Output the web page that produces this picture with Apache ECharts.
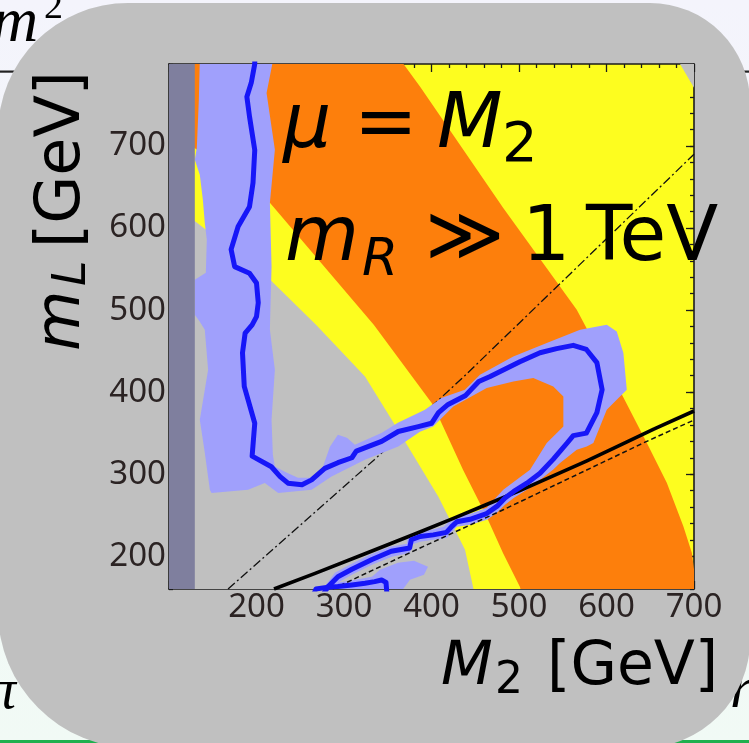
<!DOCTYPE html>
<html><head><meta charset="utf-8">
<script src="https://cdn.jsdelivr.net/npm/echarts@6/dist/echarts.min.js"></script>
<style>html,body{margin:0;padding:0;background:#f3f4f9}#c{width:749px;height:743px}</style>
</head><body><div id="c"></div>
<script>
// ---- axis values ----
const xTickLabels = [200, 300, 400, 500, 600, 700];
const yTickLabels = [200, 300, 400, 500, 600, 700];
const yMajorTicks = [200, 300, 400, 500, 600, 700];

// ---- regions (M2, mL) ----
const outerGrayCorner = [[684, 800], [710, 805], [710, 753]];
const orangeBand = [[95, 155], [95, 805], [364.6, 805], [368, 800], [386.8, 772.6], [482, 624.4], [566, 500.4], [618.9, 394.4], [646, 338.3], [668.9, 289.6], [687.9, 236.3], [697.5, 204.2], [700.5, 180], [703, 160], [705, 155]];
const innerYellow = [[95, 155], [95, 724], [132, 695.4], [215.3, 630.8], [334, 482], [400.2, 386.7], [409.7, 366.3], [436, 305.4], [463, 248], [481.7, 204], [501, 162.8], [503, 155]];
const innerGray = [[95, 155], [95, 635], [132, 606.4], [215.3, 537.2], [268, 482], [324, 419.1], [361.6, 354.2], [407.7, 272.9], [438.3, 207.9], [449, 155]];
const lepStrip = [[95, 155], [95, 805], [129.5, 805], [129.5, 155]];
const lightBlue = [
  [135.2, 805], [219, 805],
  [211.5, 764.5], [221, 695.4], [215.3, 630.5], [217.2, 553.2], [215.3, 476], [221, 427.3], [217.2, 366.3], [218.7, 323.7], [221, 309.4],
  [232.4, 303], [247.3, 295.7], [261, 295.7], [274.7, 305.4], [283.9, 333.4], [293, 348.1], [303.3, 344.4], [312.5, 335.9], [343.3, 350.5], [361.6, 362.7], [392.5, 378.5], [411.9, 393.2], [438.2, 403], [444, 409], [455.4, 421.2], [493.5, 443.5], [531.7, 459.8], [569.8, 476], [600.3, 482.1], [611.7, 474], [619.3, 447.6], [623.2, 403], [611.7, 390.7], [600.3, 378.5], [585, 338], [577.4, 333.8], [566, 329.8], [546.9, 313.6],
  [538.9, 305.4], [524, 293.2], [509.1, 281], [494.3, 271.3], [484, 262.7], [474.8, 253], [463.4, 244.4], [444, 238.4], [429.1, 236], [423.4, 229.8], [417.7, 222.5], [401.7, 220.1], [386.8, 217.6], [376.5, 214], [375.4, 204.2], [354.8, 199.4], [331.9, 189.7], [308.9, 177.5], [295.3, 169], [287.3, 158],
  [274.7, 158],
  [289.6, 179.9], [306.7, 189.7], [329.6, 201.8], [352.5, 211.6], [371.9, 215.2], [373.1, 225], [386.8, 229.8], [401.7, 232.4], [414.2, 236], [421.1, 243.2], [428, 249.3], [444, 251.8], [463.1, 259.1], [470.3, 267.6], [482, 281],
  [512.6, 305.4], [531.7, 338], [550.7, 358.2], [550.7, 394.7], [539.2, 406.9], [516.3, 417.2], [493.5, 413], [463.1, 405], [424.9, 382.6], [402, 358.2], [386.8, 351.7],
  [362, 333.8], [323.9, 317.6], [285.8, 297.2], [263, 281], [224.8, 277], [209.5, 289.2], [190.4, 281], [148.6, 277], [146.7, 281],
  [140.9, 326.1], [135.2, 366.3], [144.7, 427.3], [140.9, 476], [135.2, 485.8], [129.5, 494.3], [129.5, 537], [142.1, 545.5], [143.2, 585.7], [140.9, 606.4], [138.7, 634.5], [135.2, 665], [129.5, 683.2], [131.8, 697.9], [134.1, 756.4], [135.2, 805]
];
const lightBlueBlob = [[267.9, 158], [283.9, 166.5], [306.7, 170.1], [331.9, 175], [341.1, 183.5], [361.6, 192], [380, 194.5], [396, 187.2], [391.4, 177.5], [375.4, 171.3], [366.2, 158]];

// ---- curves ----
const blueContour = [[198, 805], [198, 800], [194, 777], [189, 760], [192, 736], [198, 695], [196, 655], [192, 626], [179, 602], [171, 574], [175, 553], [192, 545], [200, 533], [202, 509], [200, 492], [195, 482], [187, 472], [184, 448], [186, 407], [198, 362], [195, 322], [217, 309], [227, 297], [236, 289], [252, 287], [263, 293], [278, 307], [293, 314], [309, 320], [314, 328], [343, 340], [362, 352], [385, 358], [400, 362], [408, 375], [419, 385], [439, 396], [454, 413], [467, 419], [501, 437], [524, 448], [543, 453], [562, 457], [577, 452], [589, 436], [595, 403], [589, 375], [577, 350], [562, 347], [555, 338], [539, 318], [524, 301], [509, 289], [494, 279], [484, 271], [475, 261], [463, 252], [444, 245], [429, 242], [423, 236], [417, 229], [402, 226], [387, 224], [377, 220], [375, 210], [354, 206], [332, 196], [309, 184], [293, 175], [282, 163], [277, 155]];
const blueBottom = [[266, 155], [268, 160], [280, 162], [293, 163], [309, 165], [324, 167], [335, 169], [343, 171], [348, 168], [349, 155]];
const solidLine = [[220, 160], [267, 179], [324, 203], [381, 227], [425, 246], [463, 263], [501, 280], [539, 298], [577, 316], [615, 335], [654, 355], [700, 377]];
const dashedLine = [[287, 160], [387, 210], [482, 256.6], [646, 340], [700, 366]];
const dashDotLine = [[167.5, 160], [335, 318], [438, 420], [700, 690]];

// ---- colours ----
const C = { plotGray: '#c0c0c0', yellow: '#fdfd1f', orange: '#fd7f0c', lightBlue: '#a0a0fc', blue: '#1616f8', strip: '#7f7f9e', ink: '#1b1b1b', tick: '#2b2323' };

function polygonSeries(pts, color, z) {
  return {
    type: 'custom', coordinateSystem: 'cartesian2d', xAxisIndex: 0, yAxisIndex: 0, z, silent: true, animation: false,
    data: pts, encode: { x: 0, y: 1 },
    renderItem(params, api) {
      if (params.dataIndex !== pts.length - 1) return null;
      const cs = params.coordSys;
      return {
        type: 'group',
        clipPath: { type: 'rect', shape: { x: cs.x, y: cs.y, width: cs.width, height: cs.height } },
        children: [{ type: 'polygon', shape: { points: pts.map(p => api.coord(p)) }, style: { fill: color, stroke: null } }]
      };
    }
  };
}
function lineSeries(pts, color, width, type, z) {
  return { type: 'line', xAxisIndex: 0, yAxisIndex: 0, data: pts, symbol: 'none', silent: true, z, clip: true, animation: false,
    lineStyle: { color, width, type, cap: 'butt', join: 'round' } };
}

const axisLine = { show: true, onZero: false, lineStyle: { color: C.ink, width: 1.6 } };
const tickStyle = { color: C.ink, width: 1.3 };
const labelStyle = { fontFamily: 'Noto Sans', fontSize: 33, color: C.tick };

function xAxis(pos, showLabel) {
  return { type: 'value', min: 100, max: 700, interval: 100, position: pos,
    axisLine, splitLine: { show: false },
    axisTick: { show: true, inside: true, length: 8, lineStyle: tickStyle },
    minorTick: { show: true, splitNumber: 5, length: 4, lineStyle: tickStyle },
    axisLabel: showLabel ? Object.assign({ customValues: xTickLabels, margin: 2 }, labelStyle) : { show: false } };
}
function yAxis(pos, major, showLabel) {
  const a = { type: 'value', min: 160, max: 800, interval: 20, position: pos,
    axisLine: major ? { show: false } : axisLine, splitLine: { show: false },
    axisTick: { show: true, inside: true, length: major ? 8 : 4, lineStyle: tickStyle },
    axisLabel: showLabel ? Object.assign({ customValues: yTickLabels, margin: 3 }, labelStyle) : { show: false } };
  if (major) a.axisTick.customValues = yMajorTicks;
  return a;
}

// text helpers (x = left edge, base = baseline; +4 corrects measured render offset)
const DV = '"DejaVu Sans"';
function T(x, base, s, fs, italic, fam, k) {
  fam = fam || DV; k = (k == null) ? 0.346 : k;
  return { type: 'text', x, y: base + 4 - k * fs, z: 100, silent: true,
    style: { text: s, font: (italic ? 'italic ' : '') + fs + 'px ' + fam, fill: '#000', align: 'left', verticalAlign: 'middle' } };
}
const SERIF = '"Liberation Serif"';

const chart = echarts.init(document.getElementById('c'), null, { renderer: 'canvas' });
chart.setOption({
  animation: false,
  backgroundColor: 'transparent',
  grid: { left: 169, top: 64, width: 525, height: 525, containLabel: false },
  xAxis: [xAxis('bottom', true), xAxis('top', false)],
  yAxis: [yAxis('left', false, true), yAxis('left', true, false), yAxis('right', false, false), yAxis('right', true, false)],
  graphic: { elements: [
    { type: 'rect', z: -20, silent: true, shape: { x: 0, y: 0, width: 749, height: 743 },
      style: { fill: new echarts.graphic.LinearGradient(0, 0, 0, 1, [{ offset: 0, color: '#f4f4fc' }, { offset: 1, color: '#f1faf5' }]) } },
    { type: 'rect', z: -19, silent: true, shape: { x: 0, y: 740, width: 749, height: 3 }, style: { fill: '#1fb04f' } },
    { type: 'rect', z: -18, silent: true, shape: { x: 0, y: 70.5, width: 30, height: 2.2 }, style: { fill: '#222' } },
    { type: 'rect', z: -18, silent: true, shape: { x: 726, y: 70.5, width: 23, height: 2.2 }, style: { fill: '#222' } },
    Object.assign(T(-8, 42, 'm', 64, true, SERIF, 0.34), { z: -17 }),
    Object.assign(T(44, 17, '2', 38, false, SERIF, 0.34), { z: -17 }),
    Object.assign(T(-12, 708, 'π', 56, true, SERIF, 0.34), { z: -17 }),
    Object.assign(T(730, 708, 'r', 60, true, SERIF, 0.34), { z: -17 }),
    { type: 'rect', z: -10, silent: true, shape: { x: -2, y: 3, width: 752, height: 745, r: [130, 100, 108, 137] }, style: { fill: '#c0c0c0' } },
    { type: 'rect', z: -9, silent: true, shape: { x: 169, y: 64, width: 525, height: 525 }, style: { fill: C.yellow } },
    // plot annotations
    T(283, 150, 'μ', 76, true),
    T(354, 150, '=', 76, false),
    T(437, 150, 'M', 76, true),
    T(502, 162, '2', 56, false),
    T(285, 263, 'm', 76, true),
    T(362, 275, 'R', 52, true),
    T(425, 263, '≫', 76, false),
    T(522, 263, '1', 76, false),
    T(586, 263, 'TeV', 76, false),
    // x title
    T(441, 685, 'M', 60, true),
    T(495, 693, '2', 44, false),
    T(547, 685, '[GeV]', 60, false),
    // y title (rotated)
    { type: 'group', x: 80, y: 348, rotation: Math.PI / 2, z: 100, children: [
      T(-3, 0, 'm', 62, true),
      T(62, 5, 'L', 46, true),
      T(100, 0, '[GeV]', 62, false)
    ] }
  ] },
  series: [
    polygonSeries(outerGrayCorner, C.plotGray, 2),
    polygonSeries(orangeBand, C.orange, 3),
    polygonSeries(innerYellow, C.yellow, 4),
    polygonSeries(innerGray, C.plotGray, 5),
    lineSeries(dashDotLine, '#111', 1.3, [9, 3, 2, 3], 6),
    polygonSeries(lightBlue, C.lightBlue, 7),
    polygonSeries(lightBlueBlob, C.lightBlue, 7),
    polygonSeries(lepStrip, C.strip, 8),
    lineSeries(dashedLine, '#111', 1.5, [5, 3], 9),
    lineSeries(solidLine, '#000', 3.6, 'solid', 10),
    lineSeries(blueContour, C.blue, 5, 'solid', 11),
    lineSeries(blueBottom, C.blue, 5, 'solid', 11)
  ]
});
</script></body></html>
